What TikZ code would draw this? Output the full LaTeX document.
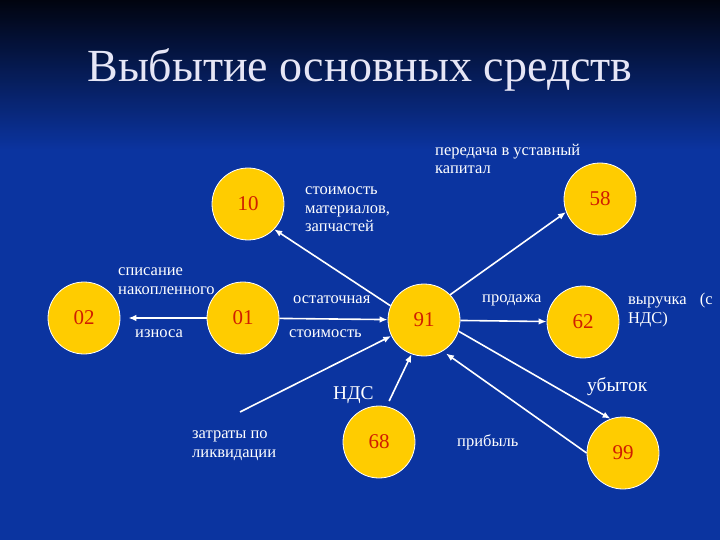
\documentclass[tikz,border=0pt]{standalone}
\usepackage{fontspec}
\setmainfont{Liberation Serif}
\usepackage{xcolor}
\usetikzlibrary{arrows.meta}
\definecolor{bgtop}{HTML}{01040F}
\definecolor{bgbot}{HTML}{0B34A0}
\definecolor{disc}{HTML}{FFCC00}
\definecolor{digit}{HTML}{D01E00}
\definecolor{titlefg}{HTML}{E6E6F6}

\begin{document}
\begin{tikzpicture}[x=1pt,y=-1pt,
  acct/.style={circle,fill=disc,draw=white,line width=0.8pt,minimum size=72pt,inner sep=0pt,text=digit,font=\fontsize{21}{21}\selectfont},
  lbl/.style={text=white,anchor=base west,align=left,inner sep=0pt,font=\fontsize{16.5}{18.5}\selectfont},
  big/.style={lbl,font=\fontsize{19.5}{19.5}\selectfont},
  flow/.style={draw=white,line width=1.6pt,-{Latex[length=8pt,width=6.5pt]}}]
  \useasboundingbox (0,0) rectangle (720,540);
  \fill[bgbot] (0,0) rectangle (720,540);
  \shade[top color=bgtop,bottom color=bgbot] (0,0) rectangle (720,150);
  \node[anchor=base,text=titlefg,font=\fontsize{46}{46}\selectfont] (title) at (360,82) {Выбытие основных средств};

  \node[acct] (n02) at (84,318) {02};
  \node[acct] (n01) at (243,318) {01};
  \node[acct] (n10) at (248,204) {10};
  \node[acct] (n91) at (424,320) {91};
  \node[acct] (n58) at (600,199) {58};
  \node[acct] (n62) at (583,322) {62};
  \node[acct] (n68) at (379,442) {68};
  \node[acct] (n99) at (623,453) {99};

  \node[lbl] (peredacha) at (435,174) {передача в уставный\\капитал};
  \node[lbl] (materialy) at (305,232) {стоимость\\материалов,\\запчастей};
  \node[lbl] (spisanie) at (118,294) {списание\\накопленного};
  \node[lbl] (iznos) at (135,337) {износа};
  \node[lbl] (ostat) at (293,303) {остаточная};
  \node[lbl] (stoim) at (289,337) {стоимость};
  \node[lbl] (prodazha) at (482,302) {продажа};
  \node[lbl] (vyruchka) at (628,323) {выручка\hspace{0.8em}(с\\НДС)};
  \node[big] (ubytok) at (587,391) {убыток};
  \node[big] (nds) at (333,399) {НДС};
  \node[lbl] (pribyl) at (457,446) {прибыль};
  \node[lbl] (zatraty) at (192,457) {затраты по\\ликвидации};
  \coordinate (zatrstart) at (240,412);

  \draw[flow,shorten >=8pt] (n01) -- (n02);
  \draw[flow] (n01) -- (n91);
  \draw[flow] (n91.157) -- (n10.-44);
  \draw[flow] (n91.44) -- (n58.201);
  \draw[flow] (n91) -- (n62);
  \draw[flow] (n91.-18) -- (n99.110);
  \draw[flow,shorten >=4pt] (n99.west) -- (n91.-59);
  \draw[flow,shorten <=6pt] (n68.78) -- (n91.250);
  \draw[flow] (zatrstart) -- (n91.206);
\end{tikzpicture}
\end{document}
